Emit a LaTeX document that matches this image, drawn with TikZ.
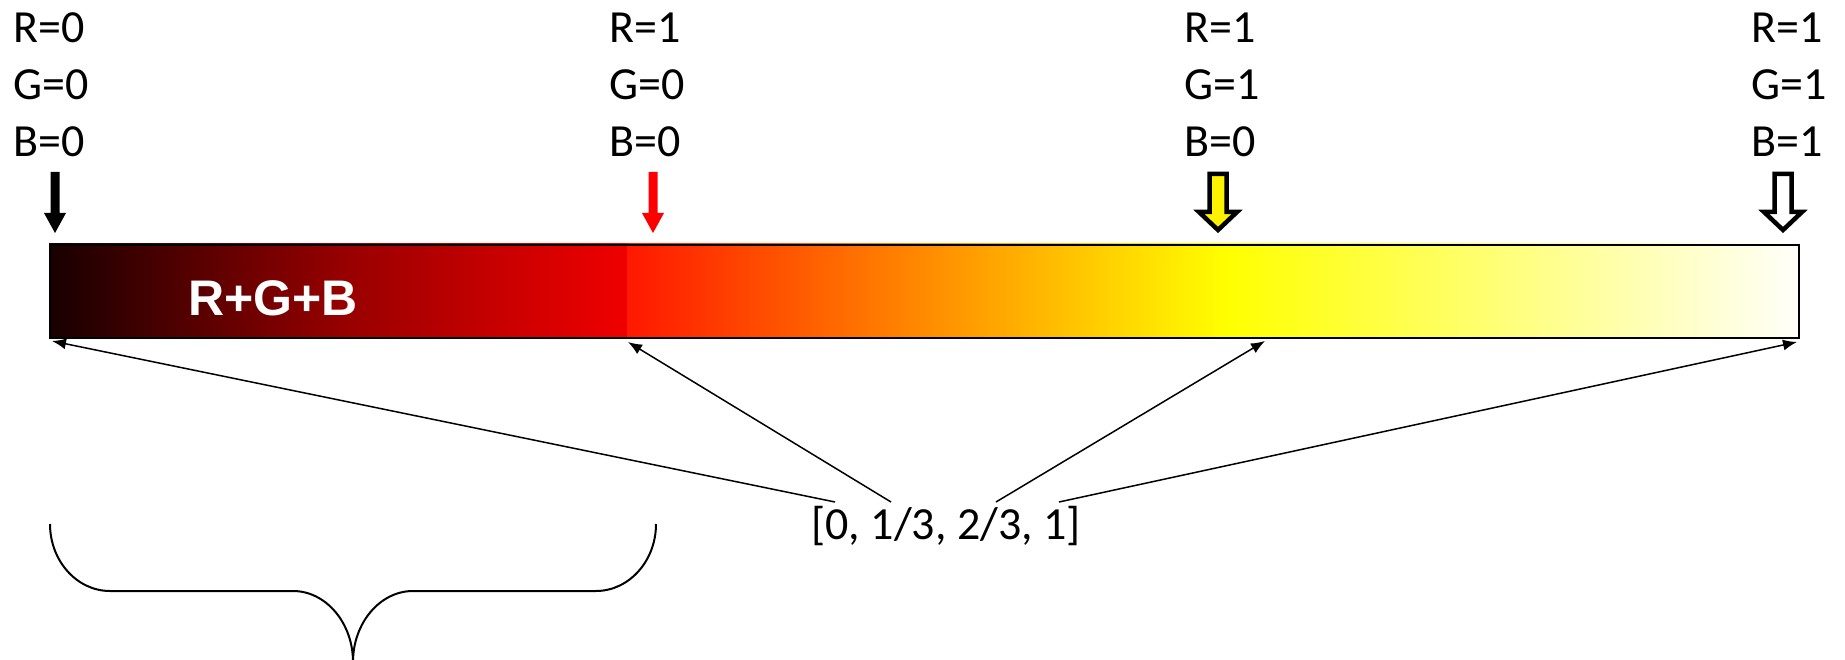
\documentclass[tikz,border=0pt]{standalone}
\usepackage{fontspec}
\setmainfont{Carlito}
\newfontfamily\arialbold{Liberation Sans}[BoldFont={Liberation Sans Bold}]
\usetikzlibrary{arrows.meta}
\begin{document}
\begin{tikzpicture}[x=1pt,y=-1pt,
  lbl/.style={anchor=base west,inner sep=0pt,font=\fontsize{46}{55}\selectfont},
  conn/.style={line width=1.5pt,-{Latex[length=14pt,width=11pt]}},
  blockarrow/.style={draw=black,line width=4.5pt,line join=miter},
  barline/.style={draw=black,line width=2pt}]
\useasboundingbox (0,0) rectangle (1845,660);
% gradient bar
\shade[left color={rgb,255:red,24;green,0;blue,0},right color={rgb,255:red,150;green,0;blue,0}] (49,244) rectangle (340.5,337);
\shade[left color={rgb,255:red,150;green,0;blue,0},right color={rgb,255:red,240;green,0;blue,0}] (340,244) rectangle (627,337);
\shade[left color={rgb,255:red,255;green,24;blue,0},right color={rgb,255:red,255;green,255;blue,0}] (627,244) rectangle (1226,337);
\shade[left color={rgb,255:red,255;green,255;blue,0},right color={rgb,255:red,255;green,255;blue,250}] (1226,244) rectangle (1798,337);
\node[barline,draw,minimum width=1749pt,minimum height=93pt,inner sep=0pt,anchor=north west] (bar) at (49,244) {};
\node[text=white,inner sep=0pt,font=\arialbold\bfseries\fontsize{50}{60}\selectfont] (rgb) at (273,298) {R+G+B};
% labels
\node[lbl] (r0) at (13,43) {R=0};
\node[lbl] (g0) at (13,100) {G=0};
\node[lbl] (b0) at (13,157) {B=0};
\node[lbl] (r1) at (609,43) {R=1};
\node[lbl] (g1) at (609,100) {G=0};
\node[lbl] (b1) at (609,157) {B=0};
\node[lbl] (r2) at (1184,43) {R=1};
\node[lbl] (g2) at (1184,100) {G=1};
\node[lbl] (b2) at (1184,157) {B=0};
\node[lbl] (r3) at (1751,43) {R=1};
\node[lbl] (g3) at (1751,100) {G=1};
\node[lbl] (b3) at (1751,157) {B=1};
% marker arrows
\fill[black] (50.5,172) -- (59.5,172) -- (59.5,213) -- (66,213) -- (55,233) -- (44,213) -- (50.5,213) -- cycle;
\fill[red] (648.5,172) -- (657.5,172) -- (657.5,213) -- (664,213) -- (653,233) -- (642,213) -- (648.5,213) -- cycle;
\filldraw[blockarrow,fill=yellow] (1209.5,174) -- (1226.5,174) -- (1226.5,212) -- (1237,212) -- (1218,230) -- (1199,212) -- (1209.5,212) -- cycle;
\filldraw[blockarrow,fill=white] (1774.5,174) -- (1791.5,174) -- (1791.5,212) -- (1802,212) -- (1783,230) -- (1764,212) -- (1774.5,212) -- cycle;
% value list and connectors
\node[inner sep=0pt,font=\fontsize{46}{55}\selectfont] (vals) at (946,526) {[0, 1/3, 2/3, 1]};
\coordinate (s1) at (835,502);
\coordinate (s2) at (891,502);
\coordinate (s3) at (996,502);
\coordinate (s4) at (1059,502);
\coordinate (t1) at (52,341);
\coordinate (t2) at (628,342);
\coordinate (t3) at (1265,341);
\coordinate (t4) at (1797,342);
\draw[conn] (s1) -- (t1);
\draw[conn] (s2) -- (t2);
\draw[conn] (s3) -- (t3);
\draw[conn] (s4) -- (t4);
% brace
\draw[line width=2pt] (50,524) .. controls (50,561) and (77,591) .. (110,591)
  -- (293,591) .. controls (326,591) and (353,623) .. (353,662);
\draw[line width=2pt] (656,524) .. controls (656,561) and (629,591) .. (596,591)
  -- (413,591) .. controls (380,591) and (353,623) .. (353,662);
\end{tikzpicture}
\end{document}
